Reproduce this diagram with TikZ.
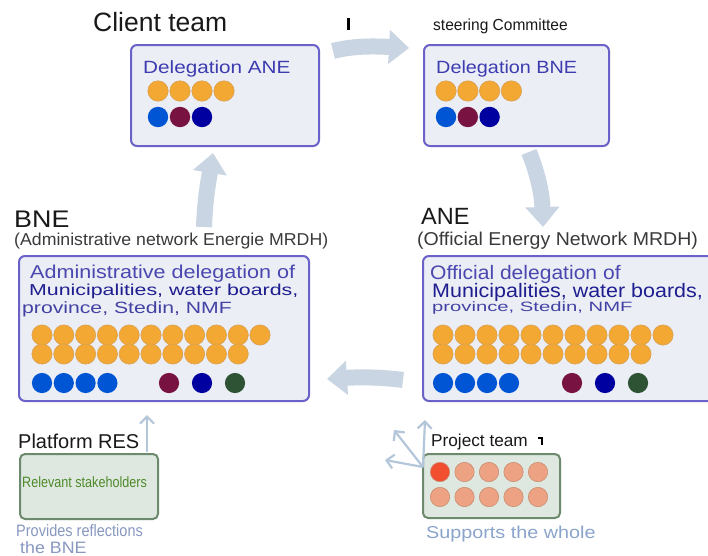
\documentclass[tikz,border=0pt]{standalone}
\usepackage{graphicx}
\usepackage{fontspec}
\setmainfont{Liberation Sans}
\usetikzlibrary{arrows.meta}
\definecolor{boxborder}{HTML}{6A62C8}
\definecolor{boxfill}{HTML}{ECEEF5}
\definecolor{orangec}{HTML}{F4A834}
\definecolor{orangeb}{HTML}{D8A052}
\definecolor{bluec}{HTML}{0055D4}
\definecolor{maroonc}{HTML}{781240}
\definecolor{navyc}{HTML}{0000A0}
\definecolor{greenc}{HTML}{2E5234}
\definecolor{flow}{HTML}{C9D5E3}
\definecolor{thinflow}{HTML}{B4C6DA}
\definecolor{gbfill}{HTML}{DFE8E0}
\definecolor{gbborder}{HTML}{6E8A6E}
\definecolor{redc}{HTML}{F24E30}
\definecolor{salmonc}{HTML}{EDA283}
\definecolor{salmonb}{HTML}{C98E72}
\definecolor{deltext}{HTML}{3C3CB0}
\definecolor{line1c}{HTML}{4A48B0}
\definecolor{line2c}{HTML}{1E1E90}
\definecolor{line3c}{HTML}{4242A4}
\definecolor{subc}{HTML}{3A3A3A}
\definecolor{stakec}{HTML}{4D8A2A}
\definecolor{notec}{HTML}{8898C0}
\definecolor{supc}{HTML}{8AA4CC}
\newcommand{\tx}[3]{\scalebox{#2}[1]{\fontsize{#1pt}{#1pt}\selectfont #3}}
\tikzset{
  lbl/.style={inner sep=0pt, anchor=base west, text=black!90},
  delbox/.style={draw=boxborder, fill=boxfill, line width=2pt, rounded corners=6pt, inner sep=0pt, anchor=north west},
  grbox/.style={draw=gbborder, fill=gbfill, line width=2pt, rounded corners=5pt, inner sep=0pt, anchor=north west},
  bigflow/.style={draw=flow, line width=16pt, -{Triangle[length=20pt, width=33pt]}},
  thinarrow/.style={draw=thinflow, line width=2.2pt, -{Straight Barb[length=7pt, width=14pt]}},
  dotO/.style={fill=orangec, draw=orangeb, line width=0.6pt},
  dotS/.style={fill=salmonc, draw=salmonb, line width=0.6pt},
}
\begin{document}
\begin{tikzpicture}[x=1pt,y=-1pt]
\useasboundingbox (0,0) rectangle (708,555);
\fill[white] (0,0) rectangle (708,555);

% ---------- boxes ----------
\node[delbox, minimum width=188pt, minimum height=101pt] (ane) at (130,44) {};
\node[delbox, minimum width=185pt, minimum height=101pt] (bne) at (423,44) {};
\node[delbox, minimum width=290pt, minimum height=145pt] (bnebig) at (18,255) {};
\node[delbox, minimum width=292pt, minimum height=145pt] (anebig) at (422,255) {};
\node[grbox, minimum width=138pt, minimum height=65pt] (pres) at (19,453) {};
\node[grbox, minimum width=137pt, minimum height=64pt] (pteam) at (422,453) {};

% ---------- flow arrows ----------
\coordinate (f1s) at (333,51);  \coordinate (f1e) at (409,48);
\coordinate (f2s) at (529,152); \coordinate (f2e) at (543,227);
\coordinate (f3s) at (403,380); \coordinate (f3e) at (327,379);
\coordinate (f4s) at (204,227); \coordinate (f4e) at (213,153);
\draw[bigflow] (f1s) .. controls (352,46) and (372,46) .. (f1e);
\draw[bigflow] (f2s) .. controls (537,172) and (542,192) .. (f2e);
\draw[bigflow] (f3s) .. controls (380,377) and (360,377) .. (f3e);
\draw[bigflow] (f4s) .. controls (205,198) and (209,178) .. (f4e);

% ---------- thin arrows ----------
\coordinate (presTop) at (147,452);
\coordinate (presTip) at (147,415);
\draw[thinarrow] (presTop) -- (presTip);
\coordinate (ptO) at (423,467);
\coordinate (ptA) at (425,420);
\coordinate (ptB) at (394,430);
\coordinate (ptC) at (385,460);
\draw[thinarrow] (ptO) -- (ptA);
\draw[thinarrow] (ptO) -- (ptB);
\draw[thinarrow] (ptO) -- (ptC);

% ---------- titles ----------
\node[lbl] (clientlbl) at (93,31) {\tx{26.5}{1}{Client team}};
\node[lbl] (steerlbl) at (433,30) {\tx{16}{0.97}{steering Committee}};
\node[lbl] (bnetitle) at (14,227) {\tx{24}{1.12}{BNE}};
\node[lbl, text=subc] (bnesub) at (14,245) {\tx{17.2}{1.03}{(Administrative network Energie MRDH)}};
\node[lbl] (anetitle) at (421,224) {\tx{23.5}{1}{ANE}};
\node[lbl, text=subc] (anesub) at (417,245) {\tx{18.6}{1.05}{(Official Energy Network MRDH)}};
\node[lbl] (preslbl) at (18,448) {\tx{20}{1}{Platform RES}};
\node[lbl] (ptlbl) at (431,446) {\tx{17.2}{1}{Project team}};

% small marks
\fill[black] (347,18) rectangle (349.6,30);
\fill[black] (537.5,436.5) rectangle (543,438.8);
\fill[black] (540.5,436.5) rectangle (543,445);

% ---------- box texts ----------
\node[lbl, text=deltext] (anetxt) at (143,73) {\tx{17.7}{1.17}{Delegation ANE}};
\node[lbl, text=deltext] (bnetxt) at (436,73) {\tx{17.7}{1.12}{Delegation BNE}};
\node[lbl, text=line1c] (l1) at (30,278) {\tx{18.6}{1.16}{Administrative delegation of}};
\node[lbl, text=line2c] (l2) at (29,295) {\tx{15.8}{1.35}{Municipalities, water boards,}};
\node[lbl, text=line3c] (l3) at (22,313) {\tx{16.3}{1.3}{province, Stedin, NMF}};
\node[lbl, text=line1c] (r1) at (430,279) {\tx{19.5}{1.08}{Official delegation of}};
\node[lbl, text=line2c] (r2) at (432,297) {\tx{19.5}{1.1}{Municipalities, water boards,}};
\node[lbl, text=line3c] (r3) at (432,311) {\tx{13.5}{1.5}{province, Stedin, NMF}};
\node[lbl, text=stakec] (stake) at (22,487) {\tx{15}{0.84}{Relevant stakeholders}};
\node[lbl, text=notec] (prov1) at (16,536) {\tx{16.5}{0.88}{Provides reflections}};
\node[lbl, text=notec] (prov2) at (20,553) {\tx{16.5}{1.08}{the BNE}};
\node[lbl, text=supc] (supp) at (426,538) {\tx{17.2}{1.15}{Supports the whole}};

% ---------- dots: small boxes ----------
\foreach \i in {0,...,3} {
  \fill[dotO] (158+22*\i,91) circle (10.2);
  \fill[dotO] (446+21.8*\i,91) circle (10.2);
}
\foreach \c [count=\i from 0] in {bluec,maroonc,navyc} {
  \fill[\c] (158+22*\i,117) circle (10.2);
  \fill[\c] (446+21.8*\i,117) circle (10.2);
}

% ---------- dots: big boxes ----------
\foreach \i in {0,...,10} {
  \fill[dotO] (42+21.8*\i,335) circle (10.1);
  \fill[dotO] (443+22*\i,335) circle (10.1);
}
\foreach \i in {0,...,9} {
  \fill[dotO] (42+21.8*\i,354) circle (10.1);
  \fill[dotO] (443+22*\i,354) circle (10.1);
}
\foreach \i in {0,...,3} {
  \fill[bluec] (42+21.8*\i,383) circle (10.1);
  \fill[bluec] (443+22*\i,383) circle (10.1);
}
\fill[maroonc] (169,383) circle (10.1);
\fill[navyc] (202,383) circle (10.1);
\fill[greenc] (235,383) circle (10.1);
\fill[maroonc] (572,383) circle (10.1);
\fill[navyc] (605,383) circle (10.1);
\fill[greenc] (638,383) circle (10.1);

% ---------- dots: project team ----------
\foreach \i in {0,...,4} {
  \fill[dotS] (440+24.5*\i,497) circle (9.7);
}
\foreach \i in {1,...,4} {
  \fill[dotS] (440+24.5*\i,472) circle (9.7);
}
\fill[fill=redc, draw=salmonb, line width=0.6pt] (440,472) circle (9.7);
\end{tikzpicture}
\end{document}
